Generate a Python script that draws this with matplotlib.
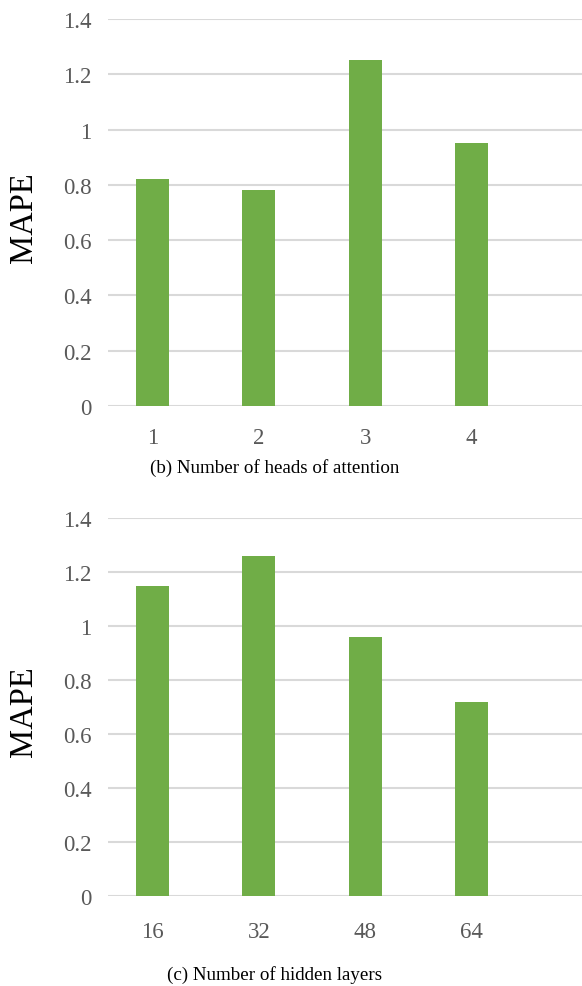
import matplotlib.pyplot as plt
import numpy as np

# MAPE for each setting
heads = ['1', '2', '3', '4']
heads_mape = [0.82, 0.78, 1.25, 0.95]

hidden = ['16', '32', '48', '64']
hidden_mape = [1.15, 1.26, 0.96, 0.72]

y_ticks = [0, 0.2, 0.4, 0.6, 0.8, 1.0, 1.2, 1.4]
y_tick_labels = ['0', '0.2', '0.4', '0.6', '0.8', '1', '1.2', '1.4']

BAR_COLOR = '#70ad47'
GRID_COLOR = '#d9d9d9'
TICK_COLOR = '#595959'
FONT = 'Liberation Serif'

plt.rcParams['font.family'] = FONT

W, H = 582, 987
fig = plt.figure(figsize=(W / 100, H / 100), dpi=100)


def px_axes(left, top, right, bottom):
    """Axes rectangle given in pixel coordinates (top-left origin)."""
    return fig.add_axes([left / W, 1 - bottom / H, (right - left) / W, (bottom - top) / H])


def bar_panel(ax, labels, values, xpad):
    x = np.arange(len(labels))
    ax.bar(x, values, width=0.31, color=BAR_COLOR, zorder=3)
    ax.set_xlim(-0.42, 4.04)
    ax.set_ylim(0, 1.4)
    ax.set_yticks(y_ticks)
    ax.set_yticklabels(y_tick_labels)
    ax.set_xticks(x)
    ax.set_xticklabels(labels)
    ax.grid(axis='y', color=GRID_COLOR, linewidth=1.5, zorder=0)
    ax.set_axisbelow(True)
    for s in ax.spines.values():
        s.set_visible(False)
    ax.tick_params(axis='both', length=0, labelsize=16.5, colors=TICK_COLOR)
    ax.tick_params(axis='y', pad=12)
    ax.tick_params(axis='x', pad=xpad)


# (b) attention heads
ax1 = px_axes(108, 20, 582, 407)
bar_panel(ax1, heads, heads_mape, xpad=15)
fig.text(24 / W, 1 - 218 / H, 'MAPE', rotation=90, ha='center', va='center',
         fontsize=23.5, color='black')
fig.text(275 / W, 1 - 468 / H, '(b) Number of heads of attention', ha='center',
         va='center', fontsize=13.7, color='black')

# (c) hidden layers
ax2 = px_axes(108, 519, 582, 897)
bar_panel(ax2, hidden, hidden_mape, xpad=18)
fig.text(24 / W, 1 - 712 / H, 'MAPE', rotation=90, ha='center', va='center',
         fontsize=23.5, color='black')
fig.text(275 / W, 1 - 975 / H, '(c) Number of hidden layers', ha='center',
         va='center', fontsize=13.7, color='black')

fig.savefig('out.png', dpi=100)
